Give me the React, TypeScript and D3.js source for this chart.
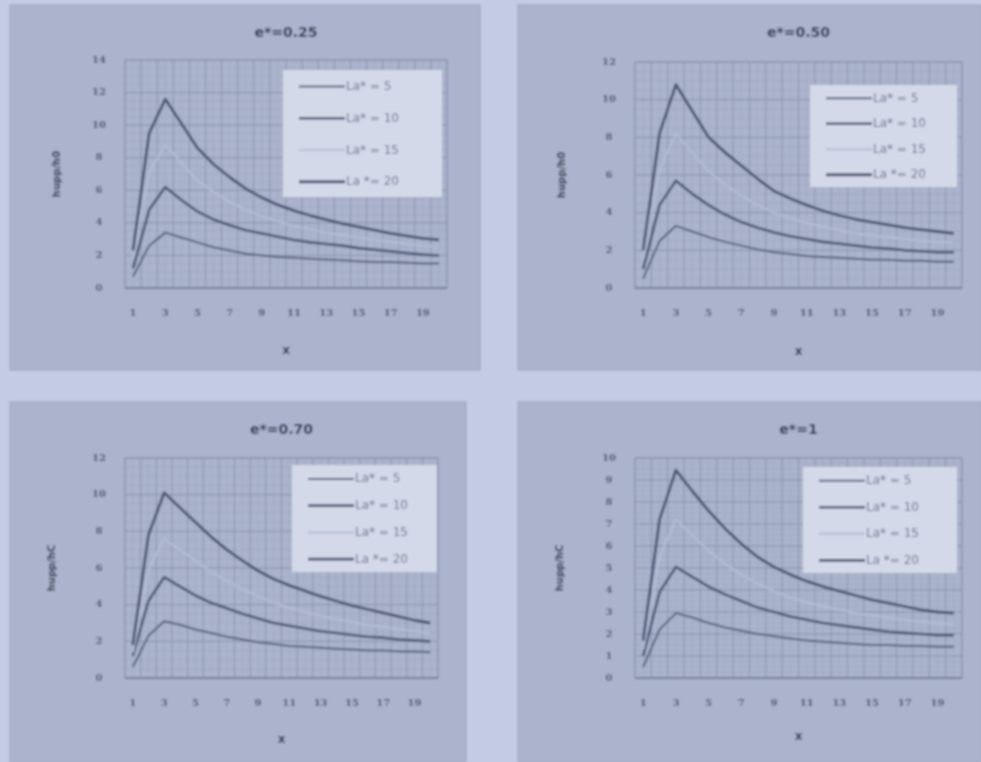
import * as d3 from 'd3';

// x categories shared by all four panels
const xCats = d3.range(1, 21);
const xTickLabels = [1, 3, 5, 7, 9, 11, 13, 15, 17, 19];
const legendLabels = ['La* = 5', 'La* = 10', 'La* = 15', 'La *= 20'];

// e* = 0.25
const p1La5 = [0.7, 2.6, 3.4, 3.1, 2.8, 2.5, 2.3, 2.1, 2.0, 1.9, 1.85, 1.8, 1.75, 1.7, 1.65, 1.6, 1.6, 1.55, 1.5, 1.5];
const p1La10 = [1.2, 4.8, 6.2, 5.4, 4.7, 4.2, 3.85, 3.55, 3.35, 3.15, 2.95, 2.8, 2.7, 2.6, 2.45, 2.35, 2.25, 2.15, 2.05, 2.0];
const p1La15 = [1.8, 7.1, 8.8, 7.7, 6.6, 5.9, 5.3, 4.8, 4.4, 4.1, 3.8, 3.6, 3.4, 3.25, 3.1, 2.95, 2.85, 2.7, 2.6, 2.5];
const p1La20 = [2.3, 9.5, 11.6, 10.1, 8.6, 7.6, 6.8, 6.1, 5.55, 5.1, 4.75, 4.45, 4.2, 3.95, 3.75, 3.55, 3.35, 3.2, 3.05, 2.95];

// e* = 0.50
const p2La5 = [0.5, 2.5, 3.3, 3.0, 2.7, 2.45, 2.25, 2.05, 1.9, 1.8, 1.7, 1.65, 1.6, 1.55, 1.5, 1.5, 1.45, 1.45, 1.4, 1.4];
const p2La10 = [1.0, 4.4, 5.7, 5.0, 4.4, 3.9, 3.5, 3.2, 2.95, 2.75, 2.6, 2.45, 2.35, 2.25, 2.15, 2.1, 2.0, 1.95, 1.9, 1.9];
const p2La15 = [1.5, 6.3, 8.2, 7.2, 6.2, 5.5, 4.9, 4.4, 4.0, 3.7, 3.45, 3.25, 3.05, 2.9, 2.8, 2.7, 2.6, 2.5, 2.45, 2.4];
const p2La20 = [2.0, 8.2, 10.8, 9.4, 8.0, 7.2, 6.5, 5.8, 5.15, 4.75, 4.4, 4.1, 3.85, 3.65, 3.5, 3.35, 3.2, 3.1, 3.0, 2.9];

// e* = 0.70
const p3La5 = [0.6, 2.3, 3.1, 2.9, 2.65, 2.45, 2.25, 2.1, 1.95, 1.85, 1.75, 1.7, 1.65, 1.6, 1.55, 1.5, 1.5, 1.45, 1.45, 1.4];
const p3La10 = [1.2, 4.2, 5.5, 5.0, 4.5, 4.1, 3.8, 3.5, 3.25, 3.0, 2.85, 2.7, 2.55, 2.45, 2.35, 2.25, 2.2, 2.1, 2.05, 2.0];
const p3La15 = [1.4, 5.9, 7.6, 7.0, 6.4, 5.8, 5.3, 4.85, 4.45, 4.1, 3.85, 3.6, 3.4, 3.2, 3.05, 2.9, 2.8, 2.65, 2.55, 2.45];
const p3La20 = [1.8, 7.8, 10.1, 9.3, 8.5, 7.7, 7.0, 6.4, 5.85, 5.4, 5.05, 4.75, 4.45, 4.2, 3.95, 3.75, 3.55, 3.35, 3.15, 3.0];

// e* = 1
const p4La5 = [0.5, 2.2, 2.95, 2.75, 2.5, 2.3, 2.15, 2.0, 1.9, 1.8, 1.7, 1.65, 1.6, 1.55, 1.5, 1.5, 1.45, 1.45, 1.42, 1.42];
const p4La10 = [1.0, 3.9, 5.05, 4.6, 4.15, 3.8, 3.5, 3.2, 3.0, 2.8, 2.65, 2.5, 2.4, 2.3, 2.2, 2.1, 2.05, 2.0, 1.95, 1.95];
const p4La15 = [1.3, 5.5, 7.2, 6.5, 5.8, 5.2, 4.7, 4.3, 3.95, 3.65, 3.45, 3.25, 3.1, 2.95, 2.85, 2.75, 2.65, 2.55, 2.5, 2.45];
const p4La20 = [1.7, 7.2, 9.45, 8.5, 7.6, 6.8, 6.1, 5.5, 5.05, 4.7, 4.4, 4.15, 3.95, 3.75, 3.55, 3.4, 3.25, 3.1, 3.0, 2.95];

const seriesStyle = [
  { color: '#56607f', width: 2 },
  { color: '#4b5575', width: 2.6 },
  { color: '#b4bdd6', width: 2 },
  { color: '#4a5373', width: 2.8 },
];

const font = '"DejaVu Sans", sans-serif';
const tickFont = '"DejaVu Serif", serif';

const panels = [
  {
    title: 'e*=0.25', ylabel: 'hupp/h0', yMax: 14, yStep: 2,
    box: [10, 5, 470, 365], plot: [125, 60, 447, 288],
    legend: [283, 70, 159, 127], titleY: 33, xLabelY: 350, yLabelX: 57,
    series: [p1La5, p1La10, p1La15, p1La20],
  },
  {
    title: 'e*=0.50', ylabel: 'hupp/h0', yMax: 12, yStep: 2,
    box: [518, 5, 463, 365], plot: [635, 62, 962, 288],
    legend: [810, 85, 147, 102], titleY: 33, xLabelY: 351, yLabelX: 562,
    series: [p2La5, p2La10, p2La15, p2La20],
  },
  {
    title: 'e*=0.70', ylabel: 'hupp/hC', yMax: 12, yStep: 2,
    box: [10, 402, 456, 360], plot: [125, 458, 438, 678],
    legend: [292, 465, 145, 107], titleY: 430, xLabelY: 739, yLabelX: 52,
    series: [p3La5, p3La10, p3La15, p3La20],
  },
  {
    title: 'e*=1', ylabel: 'hupp/hC', yMax: 10, yStep: 1,
    box: [518, 402, 463, 360], plot: [635, 458, 962, 678],
    legend: [803, 467, 154, 106], titleY: 430, xLabelY: 736, yLabelX: 560,
    series: [p4La5, p4La10, p4La15, p4La20],
  },
];

function Panel({ p }: { p: any }) {
  const [bx, by, bw, bh] = p.box;
  const [x0, y0, x1, y1] = p.plot;
  const x = d3.scaleLinear().domain([0.5, 20.5]).range([x0, x1]);
  const y = d3.scaleLinear().domain([0, p.yMax]).range([y1, y0]);
  const yTicks = d3.range(0, p.yMax + 0.001, p.yStep);
  const yMinor = d3.range(0, p.yMax + 0.001, p.yStep / 4);
  const xMajor = d3.range(0.5, 20.6, 1);
  const xMinor = d3.range(1, 20.1, 1);
  const line = d3.line<number>().x((_, i) => x(xCats[i])).y(d => y(d));
  const [lx, ly, lw, lh] = p.legend;
  const cx = (x0 + x1) / 2;

  return (
    <g>
      <rect x={bx} y={by} width={bw} height={bh} fill="#abb4cc" stroke="#9aa3bd" strokeWidth={1} />
      <text x={cx} y={p.titleY} textAnchor="middle" dominantBaseline="middle"
        fontFamily={font} fontWeight="bold" fontSize={14} fill="#2f3650">{p.title}</text>
      {yMinor.map(v => (
        <line key={'hm' + v} x1={x0} x2={x1} y1={y(v)} y2={y(v)} stroke="#a0a9c2" strokeWidth={0.8} />
      ))}
      {xMinor.map(v => (
        <line key={'vm' + v} x1={x(v)} x2={x(v)} y1={y0} y2={y1} stroke="#a0a9c2" strokeWidth={0.8} />
      ))}
      {yTicks.map(v => (
        <line key={'h' + v} x1={x0} x2={x1} y1={y(v)} y2={y(v)} stroke="#8a93ae" strokeWidth={1} />
      ))}
      {xMajor.map(v => (
        <line key={'v' + v} x1={x(v)} x2={x(v)} y1={y0} y2={y1} stroke="#8a93ae" strokeWidth={1} />
      ))}
      <rect x={x0} y={y0} width={x1 - x0} height={y1 - y0} fill="none" stroke="#8a93ae" strokeWidth={1} />
      <line x1={x0} x2={x1} y1={y1} y2={y1} stroke="#6d7693" strokeWidth={1.5} />
      {yTicks.map(v => (
        <text key={'yt' + v} x={x0 - 26} y={y(v)} textAnchor="middle" dominantBaseline="middle"
          fontFamily={tickFont} fontWeight="bold" fontSize={10} fill="#4a5372">{v}</text>
      ))}
      {xTickLabels.map(v => (
        <text key={'xt' + v} x={x(v)} y={y1 + 25} textAnchor="middle" dominantBaseline="middle"
          fontFamily={tickFont} fontWeight="bold" fontSize={10} fill="#4a5372">{v}</text>
      ))}
      <text x={cx} y={p.xLabelY} textAnchor="middle" dominantBaseline="middle"
        fontFamily={font} fontWeight="bold" fontSize={12} fill="#2f3650">x</text>
      <text transform={`translate(${p.yLabelX},${(y0 + y1) / 2}) rotate(-90)`} textAnchor="middle"
        dominantBaseline="middle" fontFamily={font} fontWeight="bold" fontSize={10} fill="#2f3650">{p.ylabel}</text>
      <rect x={lx} y={ly} width={lw} height={lh} fill="#d3d9e9" />
      {p.series.map((s: number[], i: number) => (
        <path key={'s' + i} d={line(s) || ''} fill="none" stroke={seriesStyle[i].color}
          strokeWidth={seriesStyle[i].width} strokeLinejoin="round" />
      ))}
      {legendLabels.map((t, i) => {
        const yy = ly + lh * (0.13 + i * 0.25);
        return (
          <g key={'lg' + i}>
            <line x1={lx + 16} x2={lx + 62} y1={yy} y2={yy} stroke={seriesStyle[i].color}
              strokeWidth={seriesStyle[i].width} />
            <text x={lx + 63} y={yy} dominantBaseline="middle" fontFamily={font} fontSize={12}
              fill="#6a7390">{t}</text>
          </g>
        );
      })}
    </g>
  );
}

export default function App() {
  return (
    <svg width={981} height={762} style={{ position: 'absolute', left: 0, top: 0 }}>
      <defs>
        <filter id="scan">
          <feGaussianBlur stdDeviation={0.9} />
        </filter>
      </defs>
      <rect width={981} height={762} fill="#c4cce4" />
      <g filter="url(#scan)">
        {panels.map(p => <Panel key={p.title} p={p} />)}
      </g>
    </svg>
  );
}
